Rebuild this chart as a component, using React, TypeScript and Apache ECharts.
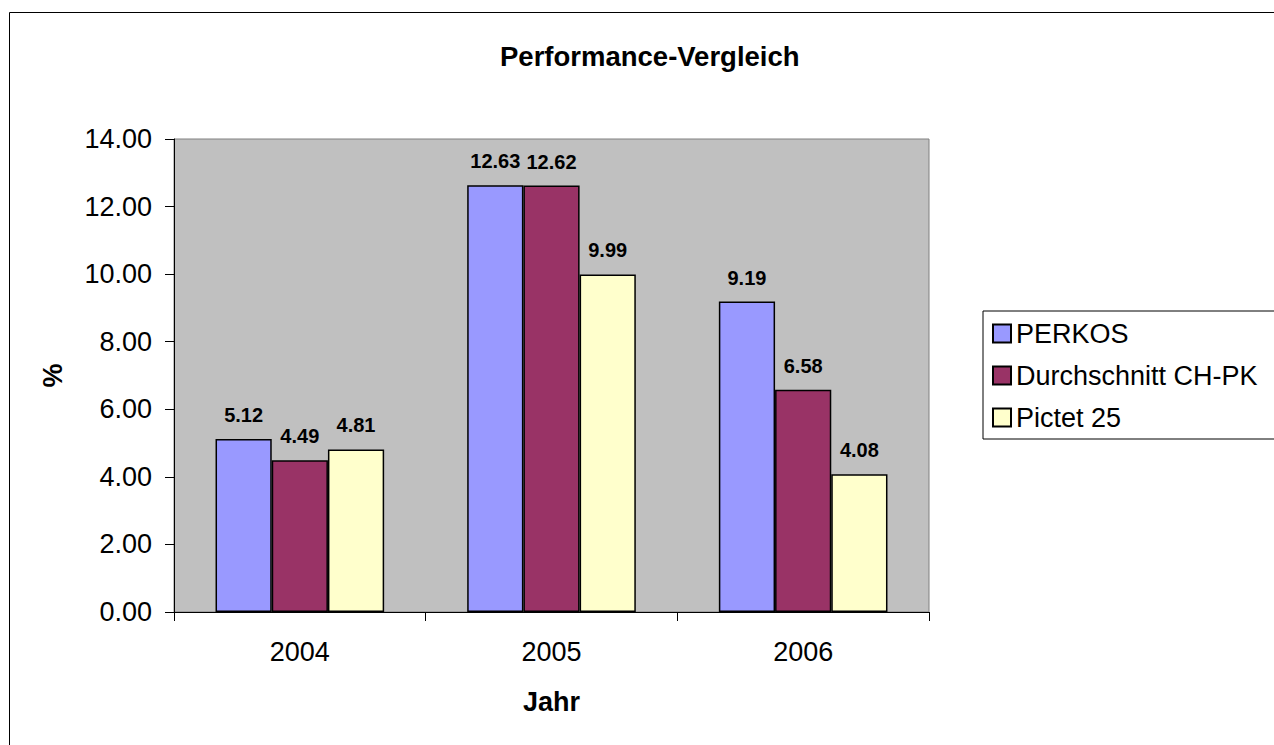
import React, { useEffect, useRef } from "react";
import * as echarts from "echarts";

const categories = ["2004", "2005", "2006"];
const perkos = [5.12, 12.63, 9.19];
const durchschnitt = [4.49, 12.62, 6.58];
const pictet = [4.81, 9.99, 4.08];
const seriesNames = ["PERKOS", "Durchschnitt CH-PK", "Pictet 25"];
const seriesColors = ["#9999FF", "#993366", "#FFFFCC"];

const FONT = "Liberation Sans, Arial, sans-serif";

export default function App() {
  const ref = useRef<HTMLDivElement>(null);
  useEffect(() => {
    if (!ref.current) return;
    const chart = echarts.init(ref.current, undefined, { renderer: "svg" });
    const dataSets = [perkos, durchschnitt, pictet];
    const labelStyle = {
      show: true,
      position: "top",
      distance: 14,
      fontFamily: FONT,
      fontSize: 20,
      fontWeight: "bold",
      color: "#000",
      formatter: (p: any) => Number(p.value).toFixed(2),
    };
    chart.setOption({
      animation: false,
      backgroundColor: "#fff",
      textStyle: { fontFamily: FONT },
      title: {
        text: "Performance-Vergleich",
        left: 495,
        top: 37,
        textStyle: { fontFamily: FONT, fontSize: 27.5, fontWeight: "bold", color: "#000" },
      },
      graphic: [
        {
          type: "rect",
          shape: { x: 9.5, y: 12.5, width: 1400, height: 900 },
          style: { fill: "none", stroke: "#000", lineWidth: 1 },
          silent: true,
        },
      ],
      legend: {
        orient: "vertical",
        left: 983,
        top: 311,
        padding: [9, 40, 8, 9],
        itemGap: 15,
        itemWidth: 18,
        itemHeight: 18,
        borderColor: "#000",
        borderWidth: 1,
        icon: "rect",
        textStyle: { fontFamily: FONT, fontSize: 27, color: "#000", lineHeight: 27 },
        data: seriesNames,
      },
      grid: {
        left: 174,
        top: 139,
        right: 345,
        bottom: 133,
        show: true,
        backgroundColor: "#C0C0C0",
        borderColor: "#808080",
        borderWidth: 1,
      },
      xAxis: {
        type: "category",
        data: categories,
        name: "Jahr",
        nameLocation: "middle",
        nameGap: 76,
        nameTextStyle: { fontFamily: FONT, fontSize: 27, fontWeight: "bold", color: "#000" },
        axisLine: { show: true, lineStyle: { color: "#000", width: 1 } },
        axisTick: { show: true, length: 9, lineStyle: { color: "#000" } },
        axisLabel: { fontFamily: FONT, fontSize: 27, color: "#000", margin: 26 },
        splitLine: { show: false },
      },
      yAxis: {
        type: "value",
        min: 0,
        max: 14,
        interval: 2,
        name: "%",
        nameLocation: "middle",
        nameGap: 108,
        nameRotate: 90,
        nameTextStyle: { fontFamily: FONT, fontSize: 27, fontWeight: "bold", color: "#000" },
        axisLine: { show: true, lineStyle: { color: "#000", width: 1 } },
        axisTick: { show: true, length: 9, lineStyle: { color: "#000" } },
        axisLabel: {
          fontFamily: FONT,
          fontSize: 27,
          color: "#000",
          margin: 22,
          formatter: (v: number) => v.toFixed(2),
        },
        splitLine: { show: false },
      },
      series: seriesNames.map((name, i) => ({
        name,
        type: "bar",
        data: dataSets[i],
        barGap: "0%",
        barCategoryGap: "33%",
        itemStyle: { color: seriesColors[i], borderColor: "#000", borderWidth: 1.5 },
        label: labelStyle,
      })),
    });
    return () => chart.dispose();
  }, []);
  return (
    <div
      ref={ref}
      style={{ position: "fixed", left: 0, top: 0, width: 1274, height: 745 }}
    />
  );
}
